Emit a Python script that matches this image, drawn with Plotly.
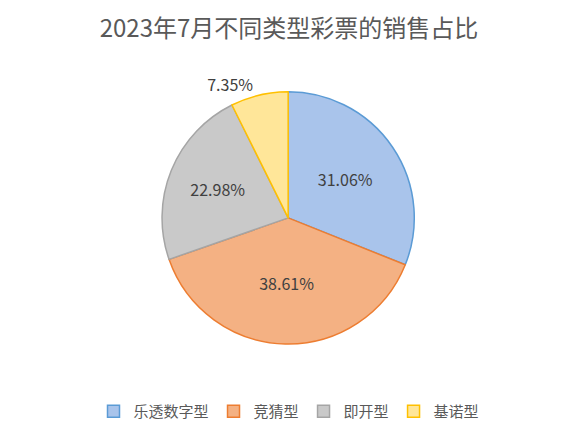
import plotly.graph_objects as go

categories = ["乐透数字型", "竞猜型", "即开型", "基诺型"]
shares = [31.06, 38.61, 22.98, 7.35]
labels_txt = ["31.06%", "38.61%", "22.98%", "7.35%"]

fills = ["#A9C4EB", "#F4B183", "#C9C9C9", "#FFE699"]
borders = ["#5B9BD5", "#ED7D31", "#A5A5A5", "#FFC000"]

fig = go.Figure(go.Pie(
    labels=categories, values=shares, text=labels_txt, textinfo="text",
    sort=False, direction="clockwise", rotation=0,
    marker=dict(colors=fills, line=dict(color=borders, width=1.5)),
    textposition=["inside", "inside", "inside", "outside"],
    textfont=dict(size=16, color="#404040", family="Noto Sans CJK SC"),
    insidetextorientation="horizontal",
    domain=dict(x=[0.274, 0.723], y=[0.238, 0.810]),
))

fig.update_layout(
    width=562, height=441,
    margin=dict(l=0, r=0, t=0, b=0),
    paper_bgcolor="white",
    font=dict(family="Noto Sans CJK SC", color="#595959"),
    title=dict(text="2023年7月不同类型彩票的销售占比", x=0.5, xanchor="center",
               y=0.953, yanchor="middle", font=dict(size=24, color="#595959")),
    legend=dict(orientation="h", x=0.5, xanchor="center", y=0.085, yanchor="middle",
                font=dict(size=15, color="#595959"), itemwidth=30),
)

fig.write_html("out.html")
